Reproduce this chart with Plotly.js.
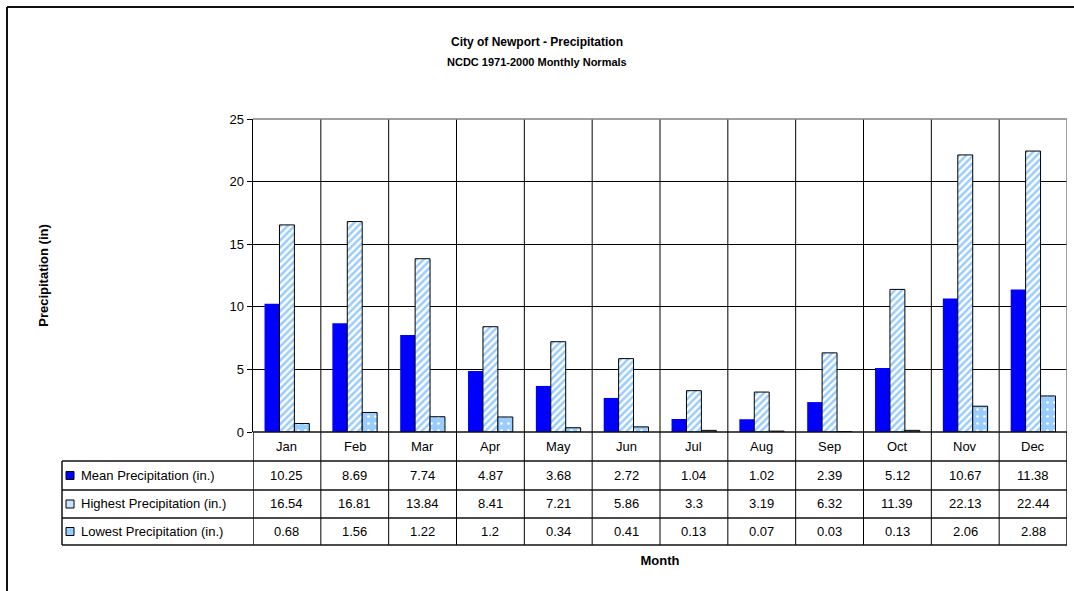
<!DOCTYPE html>
<html>
<head>
<meta charset="utf-8">
<script src="https://cdn.plot.ly/plotly-3.0.1.min.js"></script>
<style>html,body{margin:0;padding:0;background:#fff;}#chart{width:1074px;height:591px;}</style>
</head>
<body>
<div id="chart"></div>
<script>
const months = ["Jan","Feb","Mar","Apr","May","Jun","Jul","Aug","Sep","Oct","Nov","Dec"];
const meanPrecip = [10.25, 8.69, 7.74, 4.87, 3.68, 2.72, 1.04, 1.02, 2.39, 5.12, 10.67, 11.38];
const highestPrecip = [16.54, 16.81, 13.84, 8.41, 7.21, 5.86, 3.3, 3.19, 6.32, 11.39, 22.13, 22.44];
const lowestPrecip = [0.68, 1.56, 1.22, 1.2, 0.34, 0.41, 0.13, 0.07, 0.03, 0.13, 2.06, 2.88];
const seriesNames = ["Mean Precipitation (in.)", "Highest Precipitation (in.)", "Lowest Precipitation (in.)"];
const titleText = "City of Newport - Precipitation";
const subtitleText = "NCDC 1971-2000 Monthly Normals";

// layout geometry (pixels)
const W = 1074, H = 591;
const L = 253, R = 1067, T = 119, B = 432;
const pw = R - L, ph = B - T;
const px = v => (v - L) / pw;      // pixel x -> paper x
const py = v => (B - v) / ph;      // pixel y -> paper y

const FONT = "Liberation Sans, Arial, sans-serif";

const traces = [
  {type:'bar', name:seriesNames[0], x:months, y:meanPrecip,
   marker:{color:'#0000FF', line:{width:0}}, showlegend:false},
  {type:'bar', name:seriesNames[1], x:months, y:highestPrecip,
   marker:{color:'#99CCFF', line:{color:'#000', width:1},
     pattern:{shape:'/', fgcolor:'#99CCFF', bgcolor:'#ffffff', size:5, solidity:0.5}}, showlegend:false},
  {type:'bar', name:seriesNames[2], x:months, y:lowestPrecip,
   marker:{color:'#99CCFF', line:{color:'#000', width:1},
     pattern:{shape:'.', fgcolor:'#ffffff', bgcolor:'#99CCFF', size:7, solidity:0.12}}, showlegend:false}
];

const rowLines = [461, 490, 518, 545];
const rowCenters = [475.5, 504, 531.5];
const tableBottom = py(545);
const shapes = [];
const lineBlack = {color:'#111', width:1.5};

// vertical category boundaries through plot and table
for (let i = 0; i <= months.length; i++) {
  const xv = i - 0.5;
  if (i === months.length) {
    shapes.push({type:'line', xref:'x', yref:'paper', x0:xv, x1:xv, y0:0, y1:1, line:{color:'#808080', width:1.5}});
    shapes.push({type:'line', xref:'x', yref:'paper', x0:xv, x1:xv, y0:tableBottom, y1:0, line:lineBlack});
  } else if (i === 0) {
    shapes.push({type:'line', xref:'x', yref:'paper', x0:xv, x1:xv, y0:tableBottom, y1:0, line:lineBlack});
  } else {
    shapes.push({type:'line', xref:'x', yref:'paper', x0:xv, x1:xv, y0:tableBottom, y1:1, line:{color:'#000', width:1}});
  }
}
// plot top border (gray)
shapes.push({type:'line', xref:'x', yref:'paper', x0:-0.5, x1:months.length-0.5, y0:1, y1:1, line:{color:'#808080', width:1.5}});
// axis baseline
shapes.push({type:'line', xref:'x', yref:'paper', x0:-0.5, x1:months.length-0.5, y0:0, y1:0, line:lineBlack});
// table row lines
rowLines.forEach(r => {
  shapes.push({type:'line', xref:'paper', yref:'paper', x0:px(62), x1:1, y0:py(r), y1:py(r), line:lineBlack});
});
// table left border
shapes.push({type:'line', xref:'paper', yref:'paper', x0:px(62), x1:px(62), y0:py(461), y1:py(545), line:lineBlack});
// legend keys
const keyFill = ['#0000FF', '#CCE5FF', '#99CCFF'];
rowCenters.forEach((c, k) => {
  shapes.push({type:'rect', xref:'paper', yref:'paper', x0:px(66), x1:px(74), y0:py(c+4), y1:py(c-4),
    fillcolor:keyFill[k], line:{color:'#000', width:1}});
});
// outer chart frame
shapes.push({type:'line', xref:'paper', yref:'paper', x0:px(7), x1:px(W), y0:py(7), y1:py(7), line:{color:'#111', width:2}});
shapes.push({type:'line', xref:'paper', yref:'paper', x0:px(7), x1:px(7), y0:py(7), y1:py(H), line:{color:'#111', width:2}});

const annotations = [];
// subtitle
annotations.push({xref:'paper', yref:'paper', x:px(W/2), y:py(62), text:'<b>' + subtitleText + '</b>', showarrow:false,
  xanchor:'center', yanchor:'middle', font:{family:FONT, size:11, color:'#000'}});
// month labels row
months.forEach(m => {
  annotations.push({xref:'x', yref:'paper', x:m, y:py(446.5), text:m, showarrow:false,
    xanchor:'center', yanchor:'middle', font:{family:FONT, size:13, color:'#000'}});
});
// table values
const seriesData = [meanPrecip, highestPrecip, lowestPrecip];
seriesData.forEach((arr, k) => {
  annotations.push({xref:'paper', yref:'paper', x:px(79), y:py(rowCenters[k]), text:seriesNames[k], showarrow:false,
    xanchor:'left', yanchor:'middle', font:{family:FONT, size:13, color:'#000'}});
  arr.forEach((v, i) => {
    annotations.push({xref:'x', yref:'paper', x:months[i], y:py(rowCenters[k]), text:String(v), showarrow:false,
      xanchor:'center', yanchor:'middle', font:{family:FONT, size:13, color:'#000'}});
  });
});

const layout = {
  width: W, height: H,
  margin: {l:L, r:W-R, t:T, b:H-B, pad:0},
  paper_bgcolor:'#fff', plot_bgcolor:'#fff',
  font:{family:FONT, color:'#000'},
  title:{
    text:'<b>' + titleText + '</b>',
    font:{family:FONT, size:12, color:'#000'},
    xref:'container', x:0.5, xanchor:'center',
    yref:'container', y:1-42/H, yanchor:'middle'
  },
  barmode:'group', bargap:0.34, bargroupgap:0,
  xaxis:{type:'category', categoryorder:'array', categoryarray:months, range:[-0.5, months.length-0.5],
    showticklabels:false, showgrid:false, zeroline:false, showline:false, ticks:'',
    title:{text:'<b>Month</b>', font:{family:FONT, size:13, color:'#000'}, standoff:123}},
  yaxis:{range:[0,25], dtick:5, tick0:0, ticks:'outside', ticklen:5, tickcolor:'#000', tickwidth:1,
    showline:true, linecolor:'#000', linewidth:1.5, showgrid:true, gridcolor:'#000', gridwidth:1,
    zeroline:false, tickfont:{family:FONT, size:13, color:'#000'},
    title:{text:'<b>Precipitation (in)</b>', font:{family:FONT, size:13, color:'#000'}, standoff:178}},
  shapes: shapes,
  annotations: annotations
};

Plotly.newPlot('chart', traces, layout, {displayModeBar:false, staticPlot:true});
</script>
</body>
</html>
